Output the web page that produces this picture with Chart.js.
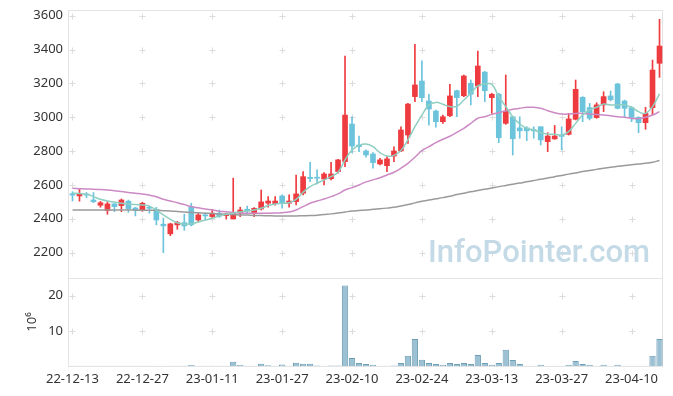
<!DOCTYPE html>
<html>
<head>
<meta charset="utf-8">
<script src="https://cdn.jsdelivr.net/npm/chart.js@4/dist/chart.umd.min.js"></script>
<style>
  html, body { margin: 0; padding: 0; background: #fff; }
  #wrap { position: relative; width: 673px; height: 396px; }
  #priceBox { position: absolute; left: 0; top: 0; width: 673px; height: 280px; }
  #volBox { position: absolute; left: 0; top: 270px; width: 673px; height: 126px; }
</style>
</head>
<body>
<div id="wrap">
  <div id="priceBox"><canvas id="priceChart"></canvas></div>
  <div id="volBox"><canvas id="volChart"></canvas></div>
</div>
<script>
// trading days
const dates = [
  '22-12-13','22-12-14','22-12-15','22-12-16','22-12-19','22-12-20','22-12-21','22-12-22','22-12-23','22-12-26',
  '22-12-27','22-12-28','22-12-29','23-01-02','23-01-03','23-01-04','23-01-05','23-01-06','23-01-09','23-01-10',
  '23-01-11','23-01-12','23-01-13','23-01-16','23-01-17','23-01-18','23-01-19','23-01-20','23-01-25','23-01-26',
  '23-01-27','23-01-30','23-01-31','23-02-01','23-02-02','23-02-03','23-02-06','23-02-07','23-02-08','23-02-09',
  '23-02-10','23-02-13','23-02-14','23-02-15','23-02-16','23-02-17','23-02-20','23-02-21','23-02-22','23-02-23',
  '23-02-24','23-02-27','23-02-28','23-03-02','23-03-03','23-03-06','23-03-07','23-03-08','23-03-09','23-03-10',
  '23-03-13','23-03-14','23-03-15','23-03-16','23-03-17','23-03-20','23-03-21','23-03-22','23-03-23','23-03-24',
  '23-03-27','23-03-28','23-03-29','23-03-30','23-03-31','23-04-03','23-04-04','23-04-05','23-04-06','23-04-07',
  '23-04-10','23-04-11','23-04-12','23-04-13','23-04-14'
];
const xTickLabels = ['22-12-13','22-12-27','23-01-11','23-01-27','23-02-10','23-02-24','23-03-13','23-03-27','23-04-10'];
const priceTicks = [2200, 2400, 2600, 2800, 3000, 3200, 3400, 3600];
const volTicks = [10, 20];

const open = [
  2548,2535,2545,2511,2480,2448,2488,2478,2504,2464,
  2448,2468,2456,2368,2311,2364,2377,2468,2393,2423,
  2413,2433,2419,2399,2433,2456,2436,2458,2492,2490,
  2535,2492,2501,2551,2645,2645,2635,2637,2679,2738,
  2960,2836,2801,2783,2724,2714,2771,2801,2895,3122,
  3214,3096,3037,2974,3009,3157,3127,3201,3185,3267,
  3116,3136,2964,3003,2937,2937,2927,2944,2856,2872,
  2895,2899,2988,3118,3057,2998,3073,3126,3197,3096,
  3057,3000,2968,3057,3319
];
const high = [
  2560,2575,2555,2555,2503,2501,2490,2517,2511,2468,
  2498,2475,2468,2404,2374,2385,2427,2492,2437,2435,
  2456,2452,2433,2640,2468,2475,2466,2570,2531,2531,
  2541,2541,2659,2679,2734,2689,2673,2734,2752,3362,
  3003,2889,2807,2791,2758,2767,2826,2944,3082,3431,
  3334,3136,3043,3013,3195,3160,3250,3220,3391,3271,
  3142,3142,3250,3003,3003,2944,2944,2944,2909,2952,
  2944,3023,3220,3122,3082,3086,3151,3155,3201,3102,
  3063,3003,3059,3338,3579
];
const low = [
  2505,2504,2525,2495,2468,2427,2442,2442,2438,2417,
  2444,2433,2364,2200,2300,2338,2332,2358,2381,2393,
  2404,2408,2398,2399,2413,2433,2413,2452,2468,2480,
  2462,2468,2482,2541,2619,2606,2600,2630,2669,2708,
  2791,2797,2764,2699,2718,2679,2738,2797,2846,3092,
  3092,2954,2941,2964,3003,3003,3122,3073,3122,3092,
  3023,2850,2958,2777,2876,2862,2876,2836,2797,2870,
  2807,2895,2984,2974,2984,2994,3033,3096,3049,3000,
  2974,2909,2929,3013,3236
];
const close = [
  2540,2545,2540,2501,2495,2488,2472,2511,2460,2452,
  2492,2462,2393,2358,2370,2377,2358,2364,2423,2417,
  2433,2415,2429,2433,2452,2446,2462,2500,2505,2505,
  2492,2505,2547,2649,2638,2640,2665,2665,2748,3013,
  2830,2826,2777,2732,2748,2754,2801,2925,3078,3191,
  3116,3049,2974,3003,3126,3116,3244,3136,3303,3157,
  3136,2879,3037,2873,2920,2920,2920,2866,2889,2889,
  2887,2990,3165,3033,2994,3073,3122,3104,3053,3053,
  3000,2968,3023,3279,3421
];

const ma5 = [
  2551,2549,2546,2531,2515,2505,2499,2492,2488,2484,
  2482,2475,2452,2423,2397,2377,2368,2370,2381,2393,
  2403,2417,2427,2433,2440,2446,2452,2462,2478,2488,
  2492,2495,2515,2557,2590,2610,2630,2649,2675,2748,
  2807,2834,2842,2826,2791,2771,2775,2803,2866,2944,
  3013,3073,3088,3077,3063,3065,3102,3142,3185,3197,
  3195,3122,3063,3003,2960,2935,2925,2909,2901,2899,
  2895,2915,2964,3013,3043,3059,3078,3073,3073,3073,
  3059,3033,3023,3063,3138
];
const ma20 = [
  2580,2578,2576,2575,2573,2570,2566,2561,2556,2551,
  2547,2540,2530,2515,2505,2495,2484,2472,2465,2458,
  2452,2445,2441,2437,2434,2433,2433,2433,2433,2434,
  2436,2440,2452,2472,2492,2505,2517,2531,2547,2570,
  2584,2600,2618,2630,2643,2659,2675,2699,2728,2764,
  2803,2826,2850,2870,2888,2911,2935,2964,2994,3003,
  3017,3027,3037,3047,3053,3059,3059,3053,3039,3027,
  3019,3019,3023,3023,3019,3017,3013,3009,3003,3000,
  2994,2992,3000,3013,3033
];
const ma60 = [
  2452,2452,2452,2452,2452,2452,2452,2452,2452,2451,
  2451,2450,2450,2448,2446,2443,2440,2437,2435,2433,
  2431,2428,2427,2426,2423,2422,2420,2419,2418,2417,
  2417,2417,2417,2418,2419,2421,2425,2429,2434,2440,
  2446,2449,2452,2456,2459,2463,2468,2476,2484,2494,
  2503,2511,2518,2525,2533,2543,2551,2560,2567,2574,
  2582,2590,2597,2604,2611,2619,2626,2633,2641,2649,
  2656,2664,2671,2679,2686,2692,2699,2705,2710,2715,
  2720,2724,2728,2734,2745
];
// volume, 10^6
const volume = [
  0.05,0.06,0.04,0.05,0.06,0.07,0.05,0.06,0.05,0.04,
  0.06,0.05,0.08,0.1,0.07,0.05,0.06,0.25,0.08,0.05,
  0.06,0.05,0.06,1.2,0.25,0.07,0.08,0.65,0.2,0.1,
  0.4,0.1,0.9,0.65,0.65,0.15,0.1,0.12,0.15,22.9,
  2.3,0.85,0.6,0.35,0.1,0.1,0.12,0.85,2.9,7.7,
  1.8,0.85,0.6,0.35,0.85,0.6,0.85,0.6,3.1,0.85,
  0.35,0.85,4.6,1.7,0.6,0.1,0.1,0.35,0.1,0.1,
  0.1,0.35,1.4,0.6,0.35,0.1,0.35,0.1,0.35,0.1,
  0.1,0.1,0.1,2.9,7.7
];

const UP = '#ee3b3f';
const DOWN = '#6cc4dc';

Chart.defaults.font.family = "'Noto Sans', sans-serif";
Chart.defaults.font.size = 13;
Chart.defaults.color = '#333';

// 十字格點 + 外框
const crossPlugin = {
  id: 'crosses',
  beforeDatasetsDraw(chart, args, opts) {
    const { ctx, chartArea: a, scales } = chart;
    ctx.save();
    ctx.lineWidth = 1;
    ctx.strokeStyle = '#e4e4e4';
    ctx.strokeRect(Math.round(a.left) - 0.5, Math.round(a.top) + 0.5,
      Math.round(a.right - a.left), Math.round(a.bottom - a.top));
    ctx.strokeStyle = '#dcdcdc';
    ctx.beginPath();
    xTickLabels.forEach(lbl => {
      const x = Math.round(scales.x.getPixelForValue(dates.indexOf(lbl))) + 0.5;
      opts.yTicks.forEach(v => {
        const y = Math.round(scales.y.getPixelForValue(v)) + 0.5;
        ctx.moveTo(x - 3, y); ctx.lineTo(x + 3, y);
        ctx.moveTo(x, y - 3); ctx.lineTo(x, y + 3);
      });
    });
    ctx.stroke();
    if (opts.watermark) {
      ctx.font = "500 31px Roboto";
      ctx.fillStyle = '#c4dae6';
      ctx.textBaseline = 'alphabetic';
      ctx.fillText(opts.watermark, 428, 262);
    }
    ctx.restore();
  }
};

// y 軸：固定寬度，不要額外的上下 padding
function fixYAxis(s) {
  s.width = 69;
  s.paddingTop = 0;
  s.paddingBottom = 0;
}

const candleColors = close.map((c, i) => c >= open[i] ? UP : DOWN);

new Chart(document.getElementById('priceChart'), {
  type: 'bar',
  data: {
    labels: dates,
    datasets: [
      { type: 'line', data: ma5, borderColor: '#8ecfc1', borderWidth: 1.5, pointRadius: 0, tension: 0.4, order: 1 },
      { type: 'line', data: ma20, borderColor: '#cc8ac5', borderWidth: 1.5, pointRadius: 0, tension: 0.4, order: 2 },
      { type: 'line', data: ma60, borderColor: '#9a9a9a', borderWidth: 1.5, pointRadius: 0, tension: 0.4, order: 3 },
      { data: dates.map((_, i) => [open[i], close[i]]), backgroundColor: candleColors,
        barThickness: 5, grouped: false, minBarLength: 1, order: 4 },
      { data: dates.map((_, i) => [low[i], high[i]]), backgroundColor: candleColors,
        barThickness: 1, grouped: false, order: 5 }
    ]
  },
  options: {
    responsive: true,
    maintainAspectRatio: false,
    animation: false,
    layout: { padding: { top: 10, right: 10, bottom: 2, left: 0 } },
    scales: {
      x: { display: false, offset: true },
      y: {
        min: 2050, max: 3634,
        afterBuildTicks: s => { s.ticks = priceTicks.map(v => ({ value: v })); },
        afterFit: fixYAxis,
        grid: { display: false, drawTicks: false },
        border: { display: false },
        ticks: { padding: 6, callback: v => String(v) }
      }
    },
    plugins: {
      legend: { display: false },
      tooltip: { enabled: false },
      crosses: { yTicks: priceTicks, watermark: 'InfoPointer.com' }
    }
  },
  plugins: [crossPlugin]
});

new Chart(document.getElementById('volChart'), {
  type: 'bar',
  data: {
    labels: dates,
    datasets: [
      { data: volume, backgroundColor: '#9bc1d3', borderColor: '#6e9fb7', borderWidth: 1,
        barPercentage: 0.9, categoryPercentage: 1 }
    ]
  },
  options: {
    responsive: true,
    maintainAspectRatio: false,
    animation: false,
    layout: { padding: { top: 8, right: 10, bottom: 0, left: 0 } },
    scales: {
      x: {
        offset: true,
        afterBuildTicks: s => { s.ticks = s.ticks.filter(t => xTickLabels.includes(dates[t.value])); },
        afterFit: s => { s.height = 30; s.paddingLeft = 0; s.paddingRight = 0; },
        grid: { display: false, drawTicks: false },
        border: { display: false },
        ticks: { autoSkip: false, maxRotation: 0, padding: 5 }
      },
      y: {
        min: 0, max: 25,
        afterBuildTicks: s => { s.ticks = volTicks.map(v => ({ value: v })); },
        afterFit: fixYAxis,
        grid: { display: false, drawTicks: false },
        border: { display: false },
        ticks: { padding: 6, callback: v => String(v) },
        title: { display: true, text: '10⁶', padding: { top: 24, bottom: 0 }, font: { size: 13 } }
      }
    },
    plugins: {
      legend: { display: false },
      tooltip: { enabled: false },
      crosses: { yTicks: volTicks }
    }
  },
  plugins: [crossPlugin]
});
</script>
</body>
</html>
